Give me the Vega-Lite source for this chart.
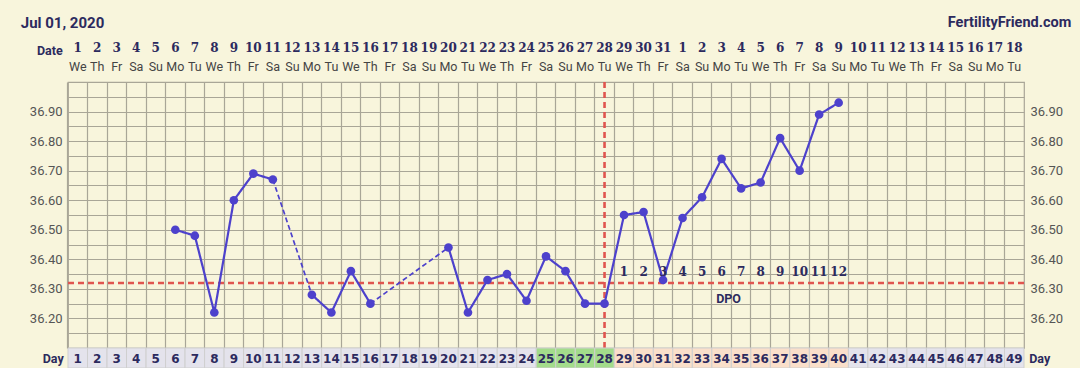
{
  "$schema": "https://vega.github.io/schema/vega-lite/v6.json",
  "background": "#f8f5dc",
  "padding": {"left": 20, "right": 10, "top": 12, "bottom": 0},
  "bounds": "flush",
  "spacing": 0,
  "config": {
    "view": {"stroke": null},
    "font": "Roboto",
    "axis": {"labelFont": "Roboto"}
  },
  "datasets": {
    "days": [
      {"day":1,"date":"1","wd":"We","phase":"pre"},{"day":2,"date":"2","wd":"Th","phase":"pre"},{"day":3,"date":"3","wd":"Fr","phase":"pre"},{"day":4,"date":"4","wd":"Sa","phase":"pre"},{"day":5,"date":"5","wd":"Su","phase":"pre"},{"day":6,"date":"6","wd":"Mo","phase":"pre"},{"day":7,"date":"7","wd":"Tu","phase":"pre"},
      {"day":8,"date":"8","wd":"We","phase":"pre"},{"day":9,"date":"9","wd":"Th","phase":"pre"},{"day":10,"date":"10","wd":"Fr","phase":"pre"},{"day":11,"date":"11","wd":"Sa","phase":"pre"},{"day":12,"date":"12","wd":"Su","phase":"pre"},{"day":13,"date":"13","wd":"Mo","phase":"pre"},{"day":14,"date":"14","wd":"Tu","phase":"pre"},
      {"day":15,"date":"15","wd":"We","phase":"pre"},{"day":16,"date":"16","wd":"Th","phase":"pre"},{"day":17,"date":"17","wd":"Fr","phase":"pre"},{"day":18,"date":"18","wd":"Sa","phase":"pre"},{"day":19,"date":"19","wd":"Su","phase":"pre"},{"day":20,"date":"20","wd":"Mo","phase":"pre"},{"day":21,"date":"21","wd":"Tu","phase":"pre"},
      {"day":22,"date":"22","wd":"We","phase":"pre"},{"day":23,"date":"23","wd":"Th","phase":"pre"},{"day":24,"date":"24","wd":"Fr","phase":"pre"},{"day":25,"date":"25","wd":"Sa","phase":"fertile"},{"day":26,"date":"26","wd":"Su","phase":"fertile"},{"day":27,"date":"27","wd":"Mo","phase":"fertile"},{"day":28,"date":"28","wd":"Tu","phase":"fertile"},
      {"day":29,"date":"29","wd":"We","phase":"post"},{"day":30,"date":"30","wd":"Th","phase":"post"},{"day":31,"date":"31","wd":"Fr","phase":"post"},{"day":32,"date":"1","wd":"Sa","phase":"post"},{"day":33,"date":"2","wd":"Su","phase":"post"},{"day":34,"date":"3","wd":"Mo","phase":"post"},{"day":35,"date":"4","wd":"Tu","phase":"post"},
      {"day":36,"date":"5","wd":"We","phase":"post"},{"day":37,"date":"6","wd":"Th","phase":"post"},{"day":38,"date":"7","wd":"Fr","phase":"post"},{"day":39,"date":"8","wd":"Sa","phase":"post"},{"day":40,"date":"9","wd":"Su","phase":"post"},{"day":41,"date":"10","wd":"Mo","phase":"future"},{"day":42,"date":"11","wd":"Tu","phase":"future"},
      {"day":43,"date":"12","wd":"We","phase":"future"},{"day":44,"date":"13","wd":"Th","phase":"future"},{"day":45,"date":"14","wd":"Fr","phase":"future"},{"day":46,"date":"15","wd":"Sa","phase":"future"},{"day":47,"date":"16","wd":"Su","phase":"future"},{"day":48,"date":"17","wd":"Mo","phase":"future"},{"day":49,"date":"18","wd":"Tu","phase":"future"}
    ],
    "temps": [
      {"day":6,"temp":36.50,"seg":"s1","kind":"solid"},{"day":7,"temp":36.48,"seg":"s1","kind":"solid"},{"day":8,"temp":36.22,"seg":"s1","kind":"solid"},{"day":9,"temp":36.60,"seg":"s1","kind":"solid"},{"day":10,"temp":36.69,"seg":"s1","kind":"solid"},{"day":11,"temp":36.67,"seg":"s1","kind":"solid"},
      {"day":11,"temp":36.67,"seg":"g1","kind":"gap"},{"day":13,"temp":36.28,"seg":"g1","kind":"gap"},
      {"day":13,"temp":36.28,"seg":"s2","kind":"solid"},{"day":14,"temp":36.22,"seg":"s2","kind":"solid"},{"day":15,"temp":36.36,"seg":"s2","kind":"solid"},{"day":16,"temp":36.25,"seg":"s2","kind":"solid"},
      {"day":16,"temp":36.25,"seg":"g2","kind":"gap"},{"day":20,"temp":36.44,"seg":"g2","kind":"gap"},
      {"day":20,"temp":36.44,"seg":"s3","kind":"solid"},{"day":21,"temp":36.22,"seg":"s3","kind":"solid"},{"day":22,"temp":36.33,"seg":"s3","kind":"solid"},{"day":23,"temp":36.35,"seg":"s3","kind":"solid"},{"day":24,"temp":36.26,"seg":"s3","kind":"solid"},{"day":25,"temp":36.41,"seg":"s3","kind":"solid"},{"day":26,"temp":36.36,"seg":"s3","kind":"solid"},{"day":27,"temp":36.25,"seg":"s3","kind":"solid"},{"day":28,"temp":36.25,"seg":"s3","kind":"solid"},
      {"day":29,"temp":36.55,"seg":"s3","kind":"solid"},{"day":30,"temp":36.56,"seg":"s3","kind":"solid"},{"day":31,"temp":36.33,"seg":"s3","kind":"solid"},{"day":32,"temp":36.54,"seg":"s3","kind":"solid"},{"day":33,"temp":36.61,"seg":"s3","kind":"solid"},{"day":34,"temp":36.74,"seg":"s3","kind":"solid"},{"day":35,"temp":36.64,"seg":"s3","kind":"solid"},{"day":36,"temp":36.66,"seg":"s3","kind":"solid"},{"day":37,"temp":36.81,"seg":"s3","kind":"solid"},{"day":38,"temp":36.70,"seg":"s3","kind":"solid"},{"day":39,"temp":36.89,"seg":"s3","kind":"solid"},{"day":40,"temp":36.93,"seg":"s3","kind":"solid"}
    ],
    "dpo": [
      {"day":29,"dpo":"1"},{"day":30,"dpo":"2"},{"day":31,"dpo":"3"},{"day":32,"dpo":"4"},{"day":33,"dpo":"5"},{"day":34,"dpo":"6"},{"day":35,"dpo":"7"},{"day":36,"dpo":"8"},{"day":37,"dpo":"9"},{"day":38,"dpo":"10"},{"day":39,"dpo":"11"},{"day":40,"dpo":"12"}
    ]
  },
  "vconcat": [
    {
      "width": 956,
      "height": 70,
      "data": {"name": "days"},
      "layer": [
        {
          "mark": {"type": "text", "font": "DejaVu Serif", "fontWeight": "bold", "fontSize": 12, "color": "#2c2a5e"},
          "encoding": {
            "x": {"field": "day", "type": "ordinal", "scale": {"domain": [1,2,3,4,5,6,7,8,9,10,11,12,13,14,15,16,17,18,19,20,21,22,23,24,25,26,27,28,29,30,31,32,33,34,35,36,37,38,39,40,41,42,43,44,45,46,47,48,49], "paddingInner": 0, "paddingOuter": 0}, "axis": null},
            "y": {"datum": 1, "type": "quantitative", "scale": {"domain": [-0.8205, 2.769], "reverse": true, "nice": false, "zero": false}, "axis": null},
            "text": {"field": "date"}
          }
        },
        {
          "mark": {"type": "text", "font": "Roboto", "fontSize": 12.5, "color": "#444444"},
          "encoding": {
            "x": {"field": "day", "type": "ordinal", "axis": null},
            "y": {"datum": 2, "type": "quantitative", "axis": null},
            "text": {"field": "wd"}
          }
        },
        {
          "data": {"values": [{"day": 1, "label": "Date"}]},
          "mark": {"type": "text", "align": "right", "dx": -15, "dy": 3, "font": "Roboto", "fontWeight": "bold", "fontSize": 12.5, "color": "#2c2a5e"},
          "encoding": {
            "x": {"field": "day", "type": "ordinal", "axis": null},
            "y": {"datum": 1, "type": "quantitative", "axis": null},
            "text": {"field": "label"}
          }
        },
        {
          "data": {"values": [{"day": 1, "label": "Jul 01, 2020"}]},
          "mark": {"type": "text", "align": "left", "dx": -57, "dy": -5.5, "font": "Roboto", "fontWeight": "bold", "fontSize": 15, "color": "#2c2a5e"},
          "encoding": {
            "x": {"field": "day", "type": "ordinal", "axis": null},
            "y": {"datum": 0, "type": "quantitative", "axis": null},
            "text": {"field": "label"}
          }
        },
        {
          "data": {"values": [{"day": 49, "label": "FertilityFriend.com"}]},
          "mark": {"type": "text", "align": "right", "dx": 57, "dy": -5.5, "font": "Roboto", "fontWeight": "bold", "fontSize": 14.5, "color": "#2c2a5e"},
          "encoding": {
            "x": {"field": "day", "type": "ordinal", "axis": null},
            "y": {"datum": 0, "type": "quantitative", "axis": null},
            "text": {"field": "label"}
          }
        }
      ]
    },
    {
      "width": 956,
      "height": 266,
      "view": {"stroke": "#a9a697", "strokeWidth": 1.2},
      "resolve": {"axis": {"x": "independent", "y": "independent"}},
      "layer": [
        {
          "data": {"name": "temps"},
          "mark": {"type": "line", "color": "#4d41cc", "opacity": 0},
          "encoding": {
            "x": {"field": "day", "type": "ordinal", "scale": {"domain": [1,2,3,4,5,6,7,8,9,10,11,12,13,14,15,16,17,18,19,20,21,22,23,24,25,26,27,28,29,30,31,32,33,34,35,36,37,38,39,40,41,42,43,44,45,46,47,48,49], "paddingInner": 0, "paddingOuter": 0},
              "axis": {"grid": true, "gridColor": "#a9a697", "gridWidth": 1.2, "labels": false, "ticks": false, "domain": false, "title": null, "bandPosition": 0}},
            "y": {"field": "temp", "type": "quantitative", "scale": {"domain": [36.1, 37.0], "nice": false, "zero": false},
              "axis": {"orient": "left", "values": [36.1,36.15,36.2,36.25,36.3,36.35,36.4,36.45,36.5,36.55,36.6,36.65,36.7,36.75,36.8,36.85,36.9,36.95,37.0],
                "grid": true, "gridColor": "#a9a697", "gridWidth": 1.2, "ticks": false, "domain": false, "title": null,
                "labelPadding": 6, "labelColor": "#555555", "labelFontSize": 13, "labelOverlap": false,
                "labelExpr": "(round(datum.value*100) % 10 == 0 && datum.value > 36.15 && datum.value < 36.95) ? format(datum.value, '.2f') : ''"}}
          }
        },
        {
          "mark": {"type": "bar", "width": 42, "xOffset": 2, "fill": "#fcfaee"},
          "encoding": {
            "x": {"datum": 34, "type": "ordinal", "axis": null},
            "y": {"datum": 36.305, "type": "quantitative", "axis": null},
            "y2": {"datum": 36.237}
          }
        },
        {
          "data": {"values": [{"coverline": 36.32}]},
          "mark": {"type": "rule", "color": "#e0554f", "strokeWidth": 2.6, "strokeDash": [6, 4]},
          "encoding": {
            "y": {"field": "coverline", "type": "quantitative", "axis": null}
          }
        },
        {
          "data": {"values": [{"day": 28}]},
          "mark": {"type": "rule", "color": "#e0554f", "strokeWidth": 2.6, "strokeDash": [6, 4]},
          "encoding": {
            "x": {"field": "day", "type": "ordinal", "axis": null}
          }
        },
        {
          "data": {"name": "temps"},
          "mark": {"type": "line", "color": "#4d41cc"},
          "encoding": {
            "x": {"field": "day", "type": "ordinal", "axis": null},
            "y": {"field": "temp", "type": "quantitative", "axis": null},
            "detail": {"field": "seg"},
            "strokeDash": {"field": "kind", "type": "nominal", "scale": {"domain": ["solid", "gap"], "range": [[1, 0], [5, 3]]}, "legend": null},
            "strokeWidth": {"field": "kind", "type": "nominal", "scale": {"domain": ["solid", "gap"], "range": [2.2, 1.7]}, "legend": null}
          }
        },
        {
          "data": {"name": "temps"},
          "transform": [{"filter": "datum.kind == 'solid'"}],
          "mark": {"type": "circle", "size": 75, "opacity": 1, "color": "#4d41cc"},
          "encoding": {
            "x": {"field": "day", "type": "ordinal", "axis": null},
            "y": {"field": "temp", "type": "quantitative",
              "axis": {"orient": "right", "values": [36.1,36.15,36.2,36.25,36.3,36.35,36.4,36.45,36.5,36.55,36.6,36.65,36.7,36.75,36.8,36.85,36.9,36.95,37.0],
                "grid": false, "ticks": false, "domain": false, "title": null,
                "labelPadding": 6, "labelColor": "#555555", "labelFontSize": 13, "labelOverlap": false,
                "labelExpr": "(round(datum.value*100) % 10 == 0 && datum.value > 36.15 && datum.value < 36.95) ? format(datum.value, '.2f') : ''"}}
          }
        },
        {
          "data": {"name": "dpo"},
          "mark": {"type": "text", "font": "DejaVu Serif", "fontWeight": "bold", "fontSize": 12, "color": "#2c2a5e"},
          "encoding": {
            "x": {"field": "day", "type": "ordinal", "axis": null},
            "y": {"datum": 36.357, "type": "quantitative", "axis": null},
            "text": {"field": "dpo"}
          }
        },
        {
          "data": {"values": [{"day": 34, "label": "DPO"}]},
          "mark": {"type": "text", "dx": 7, "font": "Roboto", "fontWeight": "bold", "fontSize": 12.5, "color": "#2c2a5e"},
          "encoding": {
            "x": {"field": "day", "type": "ordinal", "axis": null},
            "y": {"datum": 36.267, "type": "quantitative", "axis": null},
            "text": {"field": "label"}
          }
        }
      ]
    },
    {
      "width": 956,
      "height": 20,
      "data": {"name": "days"},
      "layer": [
        {
          "mark": {"type": "bar", "stroke": "#cfcfcf", "strokeWidth": 1},
          "encoding": {
            "x": {"field": "day", "type": "ordinal", "scale": {"domain": [1,2,3,4,5,6,7,8,9,10,11,12,13,14,15,16,17,18,19,20,21,22,23,24,25,26,27,28,29,30,31,32,33,34,35,36,37,38,39,40,41,42,43,44,45,46,47,48,49], "paddingInner": 0, "paddingOuter": 0}, "axis": null},
            "color": {"field": "phase", "type": "nominal", "scale": {"domain": ["pre", "fertile", "post", "future"], "range": ["#e4e3ec", "#a3dc8b", "#fadfca", "#e4e3ec"]}, "legend": null}
          }
        },
        {
          "mark": {"type": "text", "font": "DejaVu Sans", "fontWeight": "bold", "fontSize": 12, "color": "#2c2a5e", "dy": 1},
          "encoding": {
            "x": {"field": "day", "type": "ordinal", "axis": null},
            "text": {"field": "day"}
          }
        },
        {
          "data": {"values": [{"day": 1, "label": "Day"}]},
          "mark": {"type": "text", "align": "right", "dx": -14, "dy": 1, "font": "Roboto", "fontWeight": "bold", "fontSize": 12.5, "color": "#2c2a5e"},
          "encoding": {
            "x": {"field": "day", "type": "ordinal", "axis": null},
            "text": {"field": "label"}
          }
        },
        {
          "data": {"values": [{"day": 49, "label": "Day"}]},
          "mark": {"type": "text", "align": "left", "dx": 15, "dy": 1, "font": "Roboto", "fontWeight": "bold", "fontSize": 12.5, "color": "#2c2a5e"},
          "encoding": {
            "x": {"field": "day", "type": "ordinal", "axis": null},
            "text": {"field": "label"}
          }
        }
      ]
    }
  ]
}
